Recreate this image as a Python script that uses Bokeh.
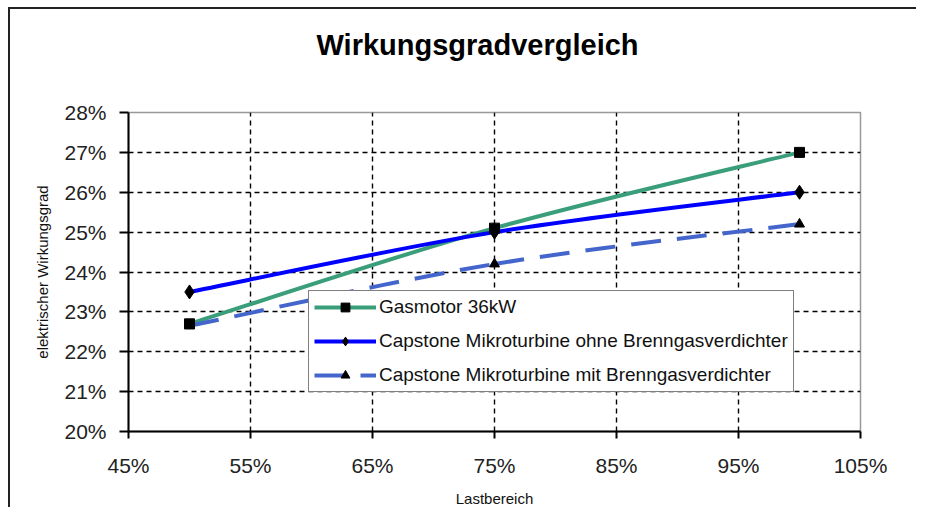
from bokeh.plotting import figure
from bokeh.models import FixedTicker, NumeralTickFormatter, Legend, LegendItem, Range1d, Title
from bokeh.embed import file_html
from bokeh.resources import INLINE

# ---- data ----
load = [0.50, 0.75, 1.00]
gasmotor = [0.227, 0.251, 0.270]
ohne = [0.235, 0.250, 0.260]
mit = [0.2265, 0.242, 0.252]
names = ["Gasmotor 36kW",
         "Capstone Mikroturbine ohne Brenngasverdichter",
         "Capstone Mikroturbine mit Brenngasverdichter"]
title_text = "Wirkungsgradvergleich"
x_ticks = [0.45, 0.55, 0.65, 0.75, 0.85, 0.95, 1.05]
y_ticks = [0.20, 0.21, 0.22, 0.23, 0.24, 0.25, 0.26, 0.27, 0.28]
x_grid = [0.55, 0.65, 0.75, 0.85, 0.95]
y_grid = [0.21, 0.22, 0.23, 0.24, 0.25, 0.26, 0.27]

FONT = "Liberation Sans"


def smooth(xs, ys):
    """Catmull-Rom -> cubic Bezier segments through the data points."""
    px = [xs[0]] + list(xs) + [xs[-1]]
    py = [ys[0]] + list(ys) + [ys[-1]]
    d = dict(x0=[], y0=[], x1=[], y1=[], cx0=[], cy0=[], cx1=[], cy1=[])
    for i in range(1, len(xs)):
        d["x0"].append(px[i]); d["y0"].append(py[i])
        d["x1"].append(px[i + 1]); d["y1"].append(py[i + 1])
        d["cx0"].append(px[i] + (px[i + 1] - px[i - 1]) / 6)
        d["cy0"].append(py[i] + (py[i + 1] - py[i - 1]) / 6)
        d["cx1"].append(px[i + 1] - (px[i + 2] - px[i]) / 6)
        d["cy1"].append(py[i + 1] - (py[i + 2] - py[i]) / 6)
    return d


p = figure(width=908, height=500, output_backend="svg", toolbar_location=None,
           title_location=None,
           x_range=Range1d(0.45, 1.05), y_range=Range1d(0.20, 0.28),
           min_border_left=118, min_border_right=58, min_border_top=103,
           min_border_bottom=77)
p.styles = {"margin-left": "8px", "margin-top": "7px",
            "border-left": "2px solid #222222", "border-top": "2px solid #222222"}

# spacer (closest to the frame) then the real title above it
spacer = Title(text=" ", text_font=FONT, text_font_size="28px", standoff=19)
main_title = Title(text=title_text, align="left", offset=188, standoff=0,
                   text_font=FONT, text_font_size="29px", text_font_style="bold",
                   text_color="black")
p.add_layout(spacer, "above")
p.add_layout(main_title, "above")

p.outline_line_color = "#999999"
p.outline_line_width = 1.5

for ax in (p.xaxis, p.yaxis):
    ax.axis_line_color = "black"
    ax.axis_line_width = 2
    ax.major_tick_line_color = "black"
    ax.major_tick_line_width = 2
    ax.minor_tick_line_color = None
    ax.major_tick_in = 0
    ax.major_label_text_font = FONT
    ax.major_label_text_font_size = "21px"
    ax.major_label_text_color = "#222222"
    ax.axis_label_text_font = FONT
    ax.axis_label_text_font_style = "normal"
    ax.axis_label_text_color = "#111111"
    ax.formatter = NumeralTickFormatter(format="0%")

p.xaxis.ticker = FixedTicker(ticks=x_ticks)
p.yaxis.ticker = FixedTicker(ticks=y_ticks)
p.xaxis.major_tick_out = 7
p.yaxis.major_tick_out = 9
p.xaxis.major_label_standoff = 15
p.yaxis.major_label_standoff = 13
p.xaxis.axis_label = "Lastbereich"
p.yaxis.axis_label = "elektrischer Wirkungsgrad"
p.xaxis.axis_label_text_font_size = "15px"
p.yaxis.axis_label_text_font_size = "15px"
p.xaxis.axis_label_standoff = 10
p.yaxis.axis_label_standoff = 10

p.xgrid.ticker = FixedTicker(ticks=x_grid)
p.ygrid.ticker = FixedTicker(ticks=y_grid)
for g in (p.xgrid, p.ygrid):
    g.grid_line_color = "black"
    g.grid_line_dash = "5 4"
    g.grid_line_width = 1.4

GREEN = "#3a9e7a"
BLUE = "#0000ff"
DBLUE = "#4466cc"

l1 = p.bezier(**smooth(load, gasmotor), line_color=GREEN, line_width=4)
l2 = p.bezier(**smooth(load, ohne), line_color=BLUE, line_width=4)
l3 = p.bezier(**smooth(load, mit), line_color=DBLUE, line_width=4, line_dash="30 16")

m1 = p.scatter(load, gasmotor, marker="square", size=10, color="black")
m2 = p.scatter(load, ohne, marker="diamond", size=14, color="black")
m3 = p.scatter(load, mit, marker="triangle", size=10, color="black")

legend = Legend(items=[LegendItem(label=names[0], renderers=[l1, m1]),
                       LegendItem(label=names[1], renderers=[l2, m2]),
                       LegendItem(label=names[2], renderers=[l3, m3])],
                location=(180, 39), orientation="vertical")
legend.label_text_font = FONT
legend.label_text_font_size = "19px"
legend.label_text_color = "#111111"
legend.glyph_width = 62
legend.glyph_height = 22
legend.label_height = 22
legend.label_standoff = 3
legend.padding = 5
legend.spacing = 12
legend.margin = 0
legend.border_line_color = "black"
legend.border_line_width = 1.5
legend.background_fill_color = "white"
legend.background_fill_alpha = 1
p.add_layout(legend)

open("out.html", "w").write(file_html(p, INLINE))
